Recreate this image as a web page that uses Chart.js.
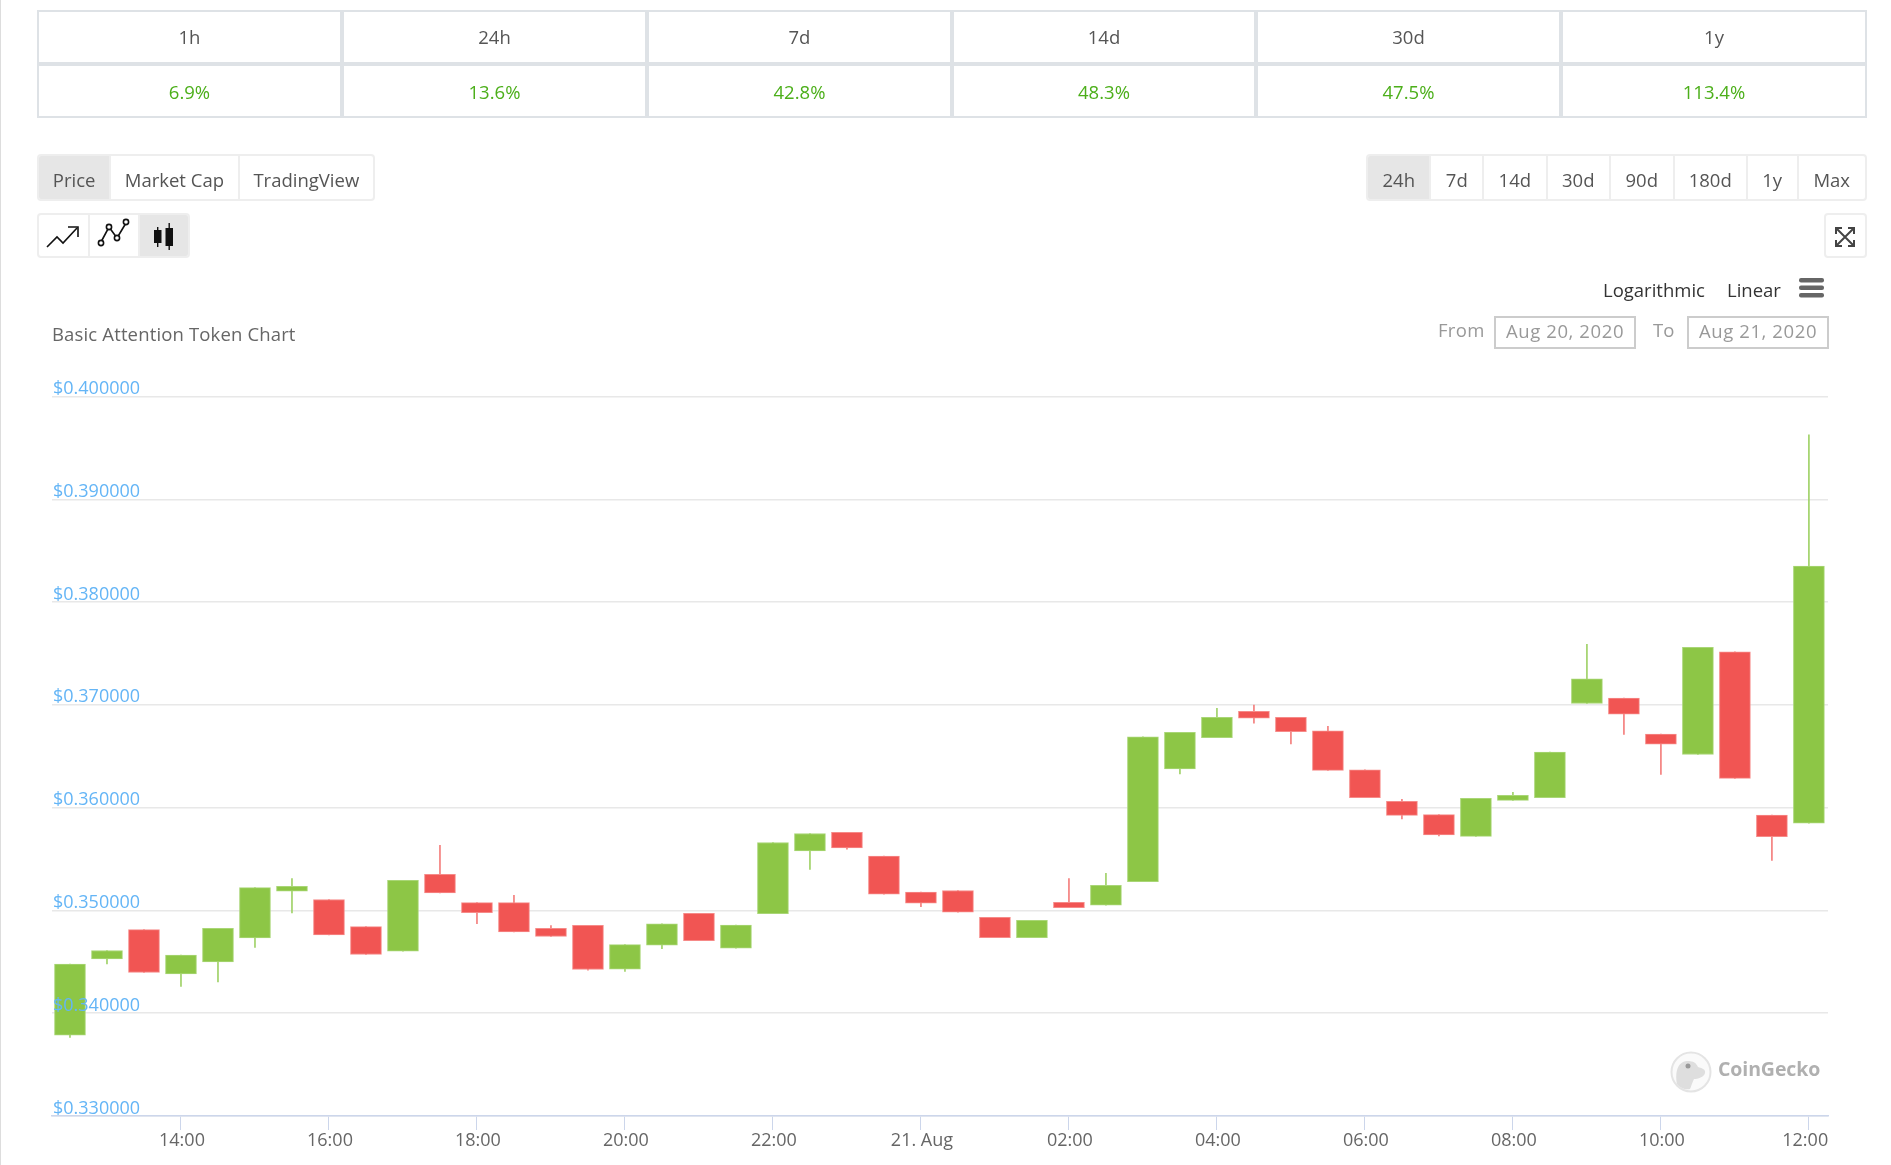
<!DOCTYPE html>
<html>
<head>
<meta charset="utf-8">
<script src="https://cdn.jsdelivr.net/npm/chart.js@4"></script>
<style>
  html, body { margin: 0; padding: 0; background: #fff; }
  body { width: 1891px; height: 1165px; position: relative; overflow: hidden;
    font-family: "Open Sans", sans-serif; font-size: 18.5px; color: #555; }
  #edge { position: absolute; left: 0; top: 0; width: 1px; height: 1165px; background: #ddd; }
  canvas { position: absolute; left: 0; top: 0; }
  .cell { position: absolute; box-sizing: border-box; text-align: center; border: 2px solid #dee2e6; }
  .up { color: #4caf1a; }
  .group { position: absolute; box-sizing: border-box; border: 2px solid #eee; border-radius: 4px; display: flex; overflow: hidden; }
  .group div { box-sizing: border-box; text-align: center; border-right: 2px solid #eee; height: 100%; }
  .group div:last-child { border-right: 0; }
  .group .on { background: #e6e6e6; }
  .abs { position: absolute; white-space: nowrap; }
  .date { position: absolute; box-sizing: border-box; border: 2px solid #ccc; color: #999; text-align: center; letter-spacing: .6px; }
</style>
</head>
<body>
<div id="edge"></div>
<canvas id="chart" width="1891" height="1165"></canvas>
<div id="ui"></div>
<div class="abs" style="left:52px;top:321px;color:#666;letter-spacing:.15px">Basic Attention Token Chart</div>

<div class="abs" style="left:1603px;top:277px;color:#333">Logarithmic</div>
<div class="abs" style="left:1727px;top:277px;color:#333">Linear</div>
<svg class="abs" style="left:1798px;top:277px" width="28" height="22">
  <rect x="1" y="1" width="25" height="4.5" rx="2" fill="#666"/>
  <rect x="1" y="8.5" width="25" height="4.5" rx="2" fill="#666"/>
  <rect x="1" y="16" width="25" height="4.5" rx="2" fill="#666"/>
</svg>
<div class="abs" style="left:1438px;top:317px;color:#999;letter-spacing:.3px">From</div>
<div class="date" style="left:1494px;top:316px;width:142px;height:33px;line-height:26px">Aug 20, 2020</div>
<div class="abs" style="left:1653px;top:317px;color:#999">To</div>
<div class="date" style="left:1687px;top:316px;width:142px;height:33px;line-height:26px">Aug 21, 2020</div>

<svg class="abs" style="left:37px;top:213px" width="153" height="45" fill="none" stroke="#111" stroke-width="1.6">
  <path d="M10 34 L20 24 L26 30 L40 15"/><path d="M31 14 L41 14 L41 24"/>
  <path d="M64 29 L72 14 L80 25 L89 10"/>
  <circle cx="64" cy="30" r="2.6" fill="#fff"/><circle cx="72" cy="14" r="2.6" fill="#fff"/>
  <circle cx="80" cy="25" r="2.6" fill="#fff"/><circle cx="89" cy="9" r="2.6" fill="#fff"/>
</svg>
<svg class="abs" style="left:37px;top:213px" width="153" height="45" fill="#111" stroke="none">
  <rect x="117" y="17" width="7.5" height="13"/><rect x="120" y="14" width="1.4" height="20"/>
  <rect x="128.500" y="15" width="7.5" height="18"/><rect x="131.500" y="10" width="1.4" height="27"/>
</svg>
<svg class="abs" style="left:1824px;top:213px" width="43" height="45" fill="none" stroke="#444" stroke-width="2">
  <path d="M13 16 L29 32 M29 16 L13 32"/>
  <path d="M12 21 V15 H18 M24 15 H30 V21 M30 27 V33 H24 M18 33 H12 V27"/>
</svg>

<svg class="abs" style="left:1670px;top:1051px" width="42" height="42">
  <ellipse cx="21" cy="21" rx="19.500" ry="19.500" fill="#fafafa" stroke="#e4e4e4" stroke-width="2"/>
  <path d="M7 33 C5 22 7 11 17 10 C24 10 26 12 28 16 C31 17 36 18 35 22 C34 26 28 28 24 28 C22 32 21 36 20 38 C15 39 10 37 7 33 Z" fill="#dedede"/>
  <circle cx="18" cy="15" r="2.500" fill="#999"/>
</svg>
<div class="abs" style="left:1718px;top:1055px;color:#b0b0b0;font-weight:700;font-size:19.5px;letter-spacing:-.1px">CoinGecko</div>

<script>
// the stats table
const statHeads = ['1h', '24h', '7d', '14d', '30d', '1y']
const statValues = ['6.9%', '13.6%', '42.8%', '48.3%', '47.5%', '113.4%']
const statEdges = [37, 342, 647, 952, 1256, 1561, 1867]

// button rows
const typeButtons = ['Price', 'Market Cap', 'TradingView']
const typeEdges = [37, 110, 240, 375]
const rangeButtons = ['24h', '7d', '14d', '30d', '90d', '180d', '1y', 'Max']
const rangeEdges = [1366, 1430, 1483, 1547, 1611, 1675, 1749, 1800, 1867]

// candles, hours counted from 00:00 on Aug 20
const hours = [12.5, 13, 13.5, 14, 14.5, 15, 15.5, 16, 16.5, 17, 17.5, 18, 18.5, 19, 19.5, 20,
  20.5, 21, 21.5, 22, 22.5, 23, 23.5, 24, 24.5, 25, 25.5, 26, 26.5, 27, 27.5, 28,
  28.5, 29, 29.5, 30, 30.5, 31, 31.5, 32, 32.5, 33, 33.5, 34, 34.5, 35, 35.5, 36]
const opens = [0.33787, 0.34529, 0.34814, 0.34383, 0.34500, 0.34733, 0.35187, 0.35106, 0.34843, 0.34604, 0.35352, 0.35076, 0.35076, 0.34827, 0.34856, 0.34429,
  0.34663, 0.34971, 0.34634, 0.34968, 0.35580, 0.35761, 0.35528, 0.35178, 0.35194, 0.34932, 0.34734, 0.35078, 0.35051, 0.35281, 0.36376, 0.36680,
  0.36936, 0.36878, 0.36748, 0.36369, 0.36062, 0.35932, 0.35721, 0.36071, 0.36096, 0.37013, 0.37065, 0.36715, 0.36517, 0.37515, 0.35928, 0.35850]
const closes = [0.34477, 0.34610, 0.34396, 0.34565, 0.34827, 0.35222, 0.35235, 0.34762, 0.34571, 0.35293, 0.35170, 0.34979, 0.34791, 0.34746, 0.34425, 0.34668,
  0.34870, 0.34705, 0.34857, 0.35661, 0.35748, 0.35609, 0.35159, 0.35071, 0.34984, 0.34734, 0.34903, 0.35026, 0.35245, 0.36690, 0.36732, 0.36878,
  0.36871, 0.36739, 0.36363, 0.36097, 0.35925, 0.35734, 0.36091, 0.36120, 0.36540, 0.37253, 0.36909, 0.36618, 0.37560, 0.36284, 0.35717, 0.38350]
const highs = [0.34477, 0.34610, 0.34814, 0.34565, 0.34827, 0.35222, 0.35310, 0.35106, 0.34843, 0.35293, 0.35634, 0.35076, 0.35148, 0.34853, 0.34856, 0.34668,
  0.34870, 0.34971, 0.34857, 0.35661, 0.35748, 0.35761, 0.35528, 0.35178, 0.35194, 0.34932, 0.34903, 0.35311, 0.35362, 0.36690, 0.36732, 0.36965,
  0.36998, 0.36878, 0.36790, 0.36369, 0.36081, 0.35932, 0.36091, 0.36149, 0.36540, 0.37590, 0.37065, 0.36715, 0.37560, 0.37515, 0.35928, 0.39628]
const lows = [0.33765, 0.34480, 0.34396, 0.34260, 0.34305, 0.34639, 0.34976, 0.34762, 0.34571, 0.34604, 0.35170, 0.34872, 0.34791, 0.34746, 0.34419, 0.34406,
  0.34627, 0.34705, 0.34634, 0.34968, 0.35398, 0.35596, 0.35159, 0.35036, 0.34984, 0.34734, 0.34734, 0.35026, 0.35051, 0.35281, 0.36327, 0.36680,
  0.36823, 0.36619, 0.36363, 0.36097, 0.35890, 0.35724, 0.35721, 0.36071, 0.36096, 0.37013, 0.36712, 0.36323, 0.36517, 0.36284, 0.35487, 0.35850]

// axes
const xTickHours = [14, 16, 18, 20, 22, 24, 26, 28, 30, 32, 34, 36]
const xTickLabels = ['14:00', '16:00', '18:00', '20:00', '22:00', '21. Aug', '02:00', '04:00', '06:00', '08:00', '10:00', '12:00']
const yTickValues = [0.33, 0.34, 0.35, 0.36, 0.37, 0.38, 0.39, 0.40]

const ui = document.getElementById('ui')
const addEl = (cls, css, html) => {
  const el = document.createElement('div')
  el.className = cls
  el.style.cssText = css
  el.innerHTML = html
  ui.appendChild(el)
  return el
}

statHeads.forEach((head, i) => {
  const left = statEdges[i]
  const w = statEdges[i + 1] - left
  addEl('cell', `left:${left}px;top:10px;width:${w}px;height:54px;line-height:50px`, head)
  addEl('cell up', `left:${left}px;top:64px;width:${w}px;height:54px;line-height:51px`, statValues[i])
})

const addGroup = (labels, edges, top) => {
  const group = addEl('group', `left:${edges[0]}px;top:${top}px;width:${edges[edges.length - 1] - edges[0]}px;height:47px`, '')
  labels.forEach((label, i) => {
    const btn = document.createElement('div')
    btn.textContent = label
    btn.style.cssText = `width:${edges[i + 1] - edges[i]}px;line-height:47px`
    if (i === 0) btn.className = 'on'
    group.appendChild(btn)
  })
}
addGroup(typeButtons, typeEdges, 154)
addGroup(rangeButtons, rangeEdges, 154)

addEl('group', 'left:37px;top:213px;width:153px;height:45px', '<div style="width:51px"></div><div style="width:50px"></div><div class="on" style="flex:1"></div>')
addEl('group', 'left:1824px;top:213px;width:43px;height:45px', '')

const green = '#8dc646'
const red = '#f15553'
const isUp = (ctx) => closes[ctx.dataIndex] >= opens[ctx.dataIndex]

new Chart(document.getElementById('chart'), {
  type: 'bar',
  data: {
    datasets: [
      {
        data: hours.map((h, i) => ({ x: h, y: [opens[i], closes[i]] })),
        order: 1,
        grouped: false,
        barThickness: 31,
        backgroundColor: (ctx) => isUp(ctx) ? green : red,
        borderColor: (ctx) => isUp(ctx) ? '#a9d676' : '#f68a88',
        borderWidth: 1,
        borderSkipped: false
      },
      {
        data: hours.map((h, i) => ({ x: h, y: [lows[i], highs[i]] })),
        order: 2,
        grouped: false,
        barThickness: 1,
        backgroundColor: (ctx) => isUp(ctx) ? '#a0d268' : '#f47f7d'
      }
    ]
  },
  options: {
    responsive: false,
    animation: false,
    devicePixelRatio: 1,
    layout: { padding: { left: 52, right: 63, top: 396.5, bottom: 0 } },
    plugins: { legend: { display: false }, title: { display: false }, tooltip: { enabled: false } },
    scales: {
      x: {
        type: 'linear',
        offset: false,
        min: 12.257,
        max: 36.258,
        afterBuildTicks: (s) => { s.ticks = xTickHours.map((v) => ({ value: v })) },
        afterFit: (s) => { s.height = 49 },
        grid: { offset: false, drawOnChartArea: false, drawTicks: true, tickLength: 14, tickColor: '#ccd6eb' },
        border: { color: '#ccd6eb', width: 1.5 },
        ticks: {
          autoSkip: false,
          maxRotation: 0,
          padding: 0,
          labelOffset: 1,
          color: '#666',
          font: { family: '"Open Sans", sans-serif', size: 18 },
          // last label is pushed left to stay inside the plot
          callback: (v, i) => i === xTickLabels.length - 1 ? xTickLabels[i] + '  ' : xTickLabels[i]
        }
      },
      y: {
        min: yTickValues[0],
        max: yTickValues[yTickValues.length - 1],
        afterBuildTicks: (s) => { s.ticks = yTickValues.map((v) => ({ value: v })) },
        afterFit: (s) => { s.width = 0 },
        grid: { color: '#e8e8e8', lineWidth: 1.5, drawTicks: false },
        border: { display: false },
        ticks: {
          mirror: true,
          padding: 1,
          z: 1,
          labelOffset: -7.5,
          color: '#64b5f6',
          font: { family: '"Open Sans", sans-serif', size: 18 },
          callback: (v) => '$' + v.toFixed(6)
        }
      }
    }
  }
})
</script>
</body>
</html>
